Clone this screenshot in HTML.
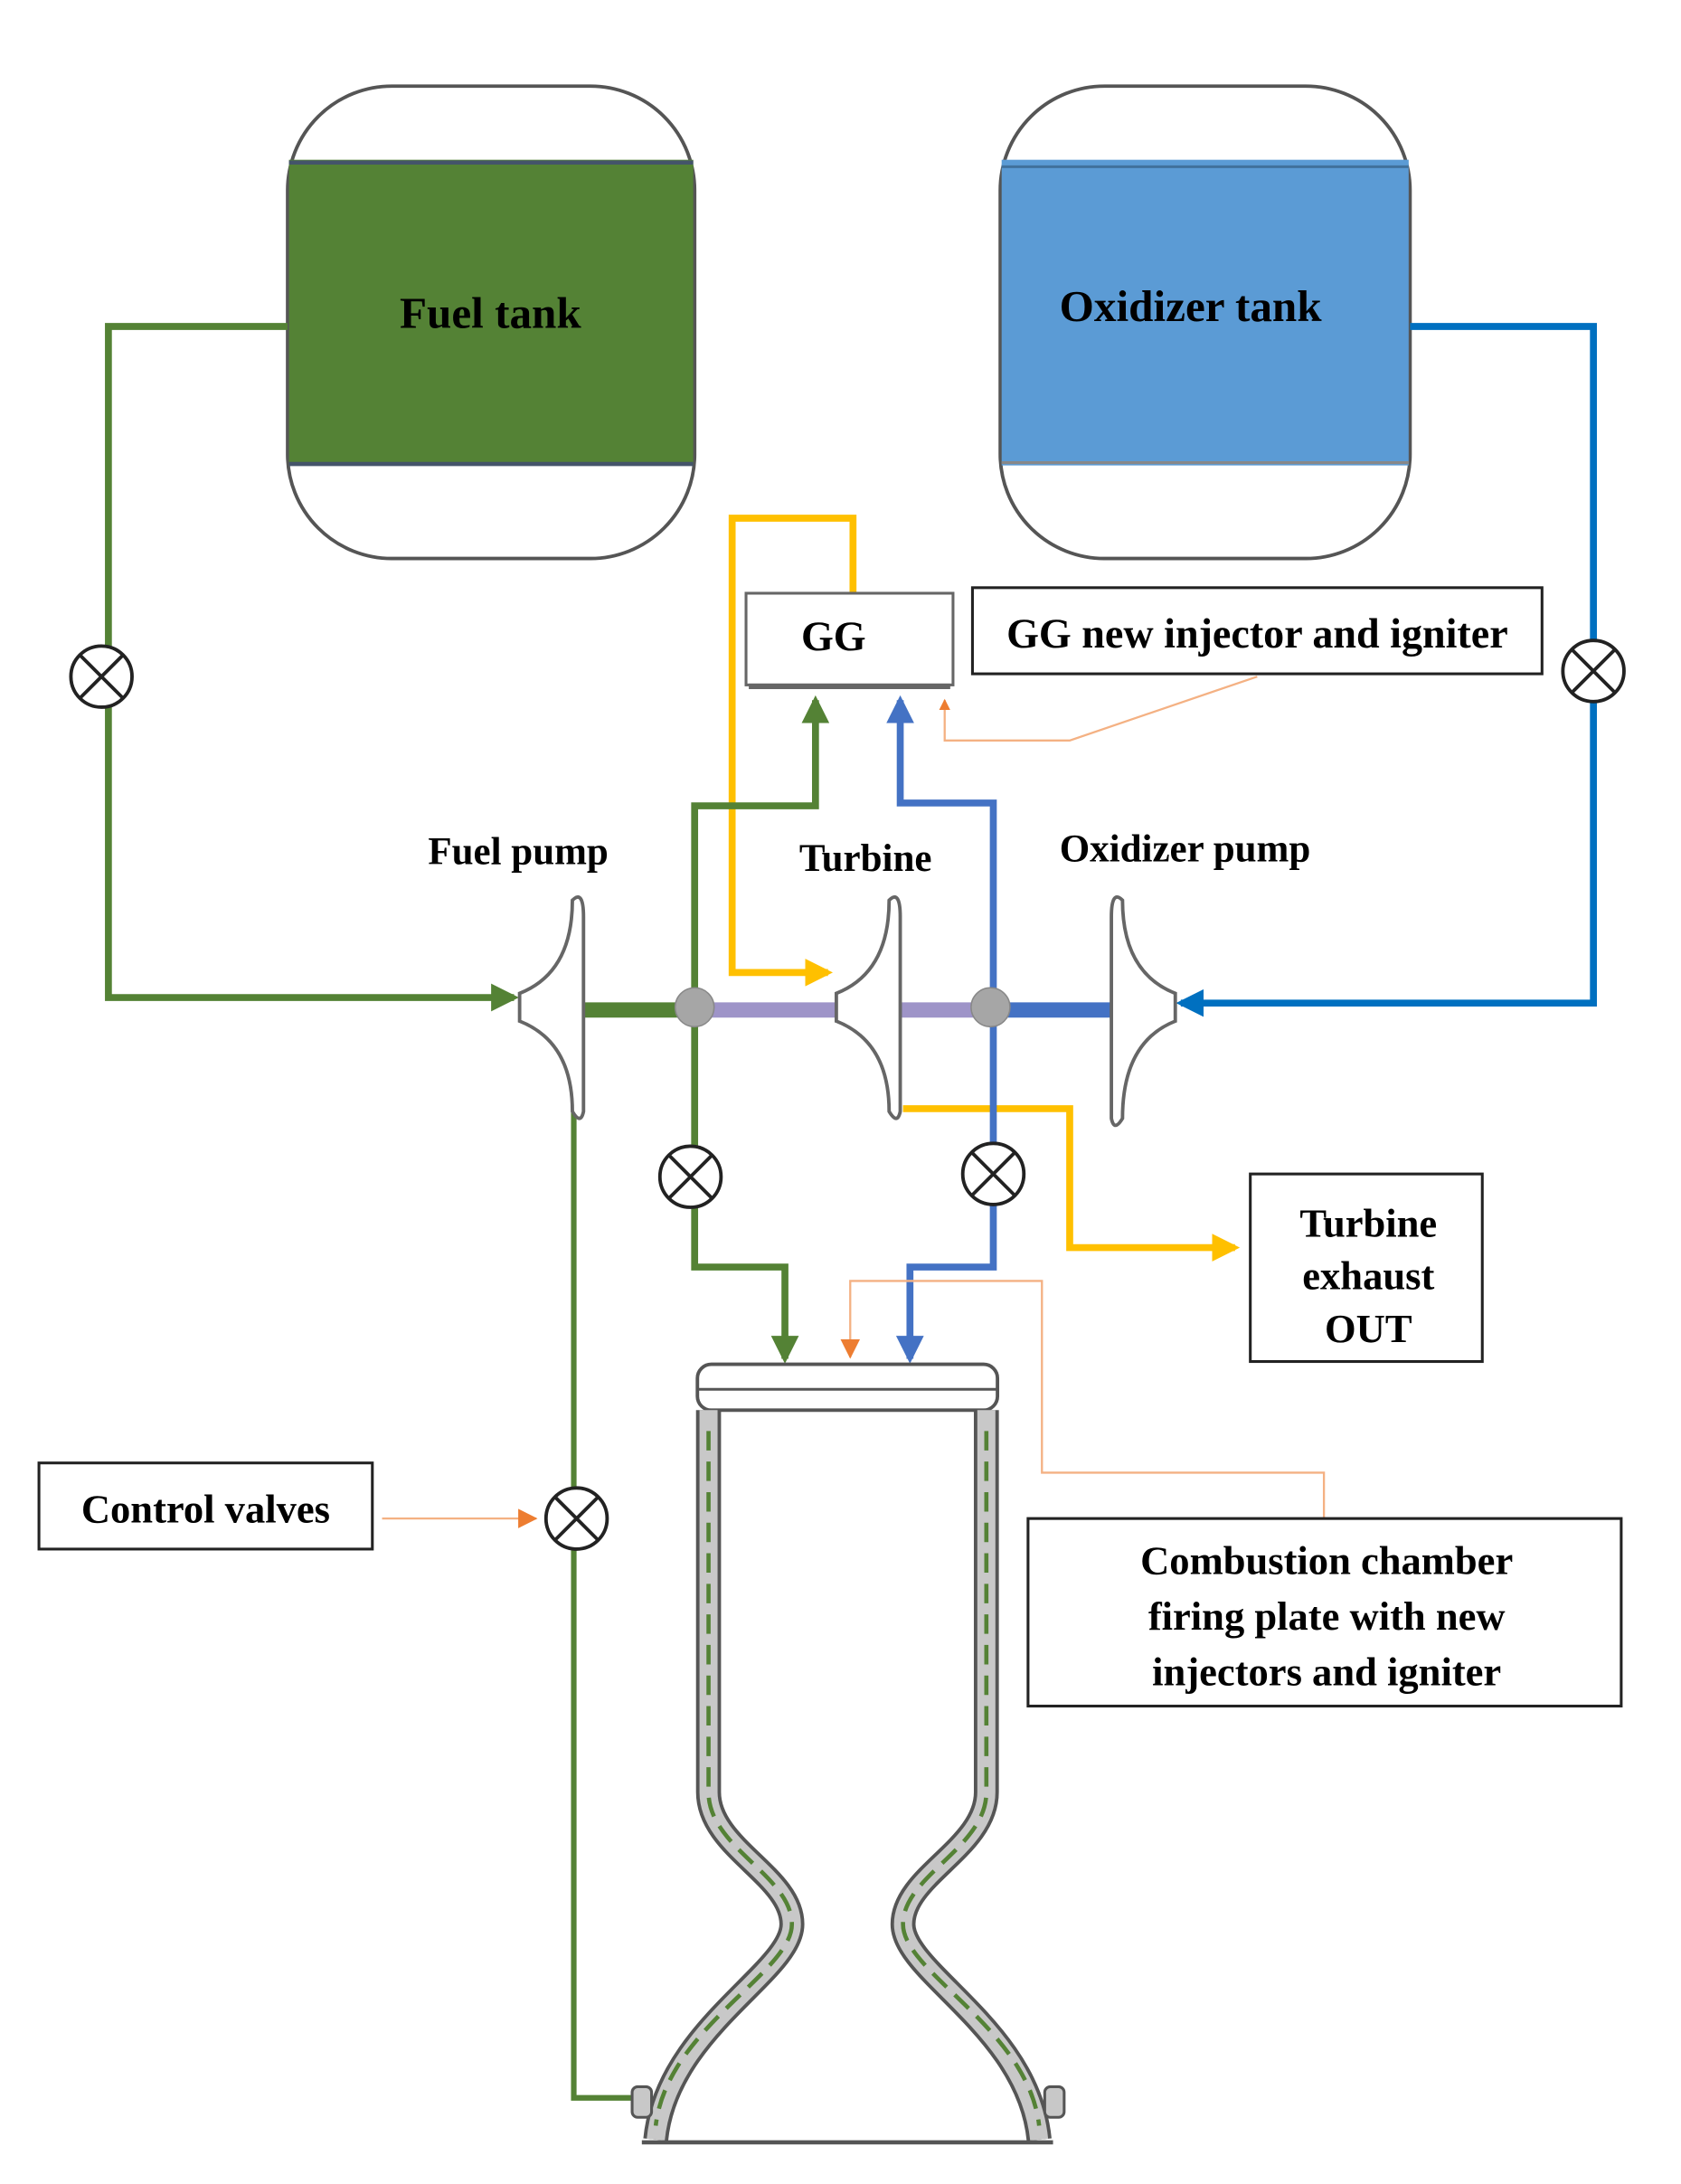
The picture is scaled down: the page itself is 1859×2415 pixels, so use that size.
<!DOCTYPE html>
<html><head><meta charset="utf-8"><style>html,body{margin:0;padding:0;background:#fff}svg{display:block}</style></head>
<body>
<svg width="1859" height="2415" viewBox="0 0 1210 1572" xmlns="http://www.w3.org/2000/svg" font-family="Liberation Serif, serif" font-weight="bold">
<defs>
<marker id="ag" markerWidth="4" markerHeight="4" refX="3.3" refY="2" orient="auto" markerUnits="strokeWidth"><path d="M0,0 L4,2 L0,4z" fill="#548235"/></marker>
<marker id="ab" markerWidth="4" markerHeight="4" refX="3.3" refY="2" orient="auto" markerUnits="strokeWidth"><path d="M0,0 L4,2 L0,4z" fill="#4472c4"/></marker>
<marker id="ab2" markerWidth="4" markerHeight="4" refX="3.3" refY="2" orient="auto" markerUnits="strokeWidth"><path d="M0,0 L4,2 L0,4z" fill="#0070c0"/></marker>
<marker id="ay" markerWidth="4" markerHeight="4" refX="3.3" refY="2" orient="auto" markerUnits="strokeWidth"><path d="M0,0 L4,2 L0,4z" fill="#ffc000"/></marker>
<marker id="ao" markerWidth="8" markerHeight="8" refX="7" refY="4" orient="auto" markerUnits="userSpaceOnUse"><path d="M0,0 L8,4 L0,8z" fill="#ed7d31"/></marker>
<marker id="ao2" markerWidth="14" markerHeight="14" refX="13" refY="7" orient="auto" markerUnits="userSpaceOnUse"><path d="M0,0 L14,7 L0,14z" fill="#ed7d31"/></marker>
</defs>
<rect x="207" y="62" width="293" height="340" rx="75" fill="#fff" stroke="#555" stroke-width="2.5"/>
<rect x="208" y="115" width="291" height="220" fill="#548235"/>
<line x1="208" y1="117" x2="499" y2="117" stroke="#44546a" stroke-width="3"/>
<line x1="208" y1="334" x2="499" y2="334" stroke="#44546a" stroke-width="3"/>
<text x="353" y="236" font-size="32" text-anchor="middle">Fuel tank</text>
<rect x="720" y="62" width="295" height="340" rx="75" fill="#fff" stroke="#555" stroke-width="2.5"/>
<rect x="721" y="115" width="293" height="220" fill="#5b9bd5"/>
<line x1="721" y1="120" x2="1014" y2="120" stroke="#41719c" stroke-width="2"/>
<line x1="721" y1="333" x2="1014" y2="333" stroke="#888" stroke-width="2"/>
<text x="857" y="231" font-size="32" text-anchor="middle">Oxidizer tank</text>
<polyline points="207,235 78,235 78,718 370,718" fill="none" stroke="#548235" stroke-width="5" marker-end="url(#ag)"/>
<polyline points="1015,235 1147,235 1147,722 850,722" fill="none" stroke="#0070c0" stroke-width="5" marker-end="url(#ab2)"/>
<line x1="420" y1="727" x2="500" y2="727" stroke="#548235" stroke-width="11"/>
<line x1="500" y1="727" x2="605" y2="727" stroke="#9e94c8" stroke-width="11"/>
<line x1="648" y1="727" x2="715" y2="727" stroke="#9e94c8" stroke-width="11"/>
<line x1="715" y1="727" x2="802" y2="727" stroke="#4472c4" stroke-width="11"/>
<polyline points="614,427 614,373 527,373 527,700 596,700" fill="none" stroke="#ffc000" stroke-width="5" marker-end="url(#ay)"/>
<polyline points="650,798 770,798 770,898 889,898" fill="none" stroke="#ffc000" stroke-width="5" marker-end="url(#ay)"/>
<polyline points="500,725 500,580 587,580 587,504" fill="none" stroke="#548235" stroke-width="5" marker-end="url(#ag)"/>
<polyline points="500,725 500,912 565,912 565,978" fill="none" stroke="#548235" stroke-width="5" marker-end="url(#ag)"/>
<polyline points="715,725 715,578 648,578 648,504" fill="none" stroke="#4472c4" stroke-width="5" marker-end="url(#ab)"/>
<polyline points="715,725 715,912 655,912 655,978" fill="none" stroke="#4472c4" stroke-width="5" marker-end="url(#ab)"/>
<polyline points="413,800 413,1510 468,1510" fill="none" stroke="#548235" stroke-width="4"/>
<circle cx="500" cy="725" r="14" fill="#a6a6a6" stroke="#888"/>
<circle cx="713" cy="725" r="14" fill="#a6a6a6" stroke="#888"/>
<g fill="#fff" stroke="#666" stroke-width="2.5">
<path d="M412,648 Q420,640 420,660 L420,800 Q418,810 412,800 Q412,750 374,735 L374,715 Q412,700 412,648z"/>
<path d="M640,648 Q648,640 648,660 L648,800 Q646,810 640,800 Q640,750 602,735 L602,715 Q640,700 640,648z"/>
<path d="M808,648 Q800,640 800,660 L800,805 Q802,815 808,805 Q808,750 846,735 L846,715 Q808,700 808,648z"/>
</g>
<rect x="537" y="427" width="149" height="66" fill="#fff" stroke="#666" stroke-width="2"/>
<line x1="539" y1="494" x2="684" y2="494" stroke="#666" stroke-width="4"/>
<text x="600" y="468" font-size="30" text-anchor="middle">GG</text>
<rect x="700" y="423" width="410" height="62" fill="#fff" stroke="#222" stroke-width="2"/>
<text x="905" y="466" font-size="30" text-anchor="middle">GG new injector and igniter</text>
<polyline points="905,487 770,533 680,533 680,504" fill="none" stroke="#f4b183" stroke-width="1.5" marker-end="url(#ao)"/>
<text x="373" y="622" font-size="28" text-anchor="middle">Fuel pump</text>
<text x="623" y="627" font-size="28" text-anchor="middle">Turbine</text>
<text x="853" y="620" font-size="28" text-anchor="middle">Oxidizer pump</text>
<g fill="#fff" stroke="#222" stroke-width="2.5">
<g transform="translate(73,487)"><circle r="22"/><path d="M-15,-15 L15,15 M15,-15 L-15,15"/></g>
<g transform="translate(1147,483)"><circle r="22"/><path d="M-15,-15 L15,15 M15,-15 L-15,15"/></g>
<g transform="translate(497,847)"><circle r="22"/><path d="M-15,-15 L15,15 M15,-15 L-15,15"/></g>
<g transform="translate(715,845)"><circle r="22"/><path d="M-15,-15 L15,15 M15,-15 L-15,15"/></g>
<g transform="translate(415,1093)"><circle r="22"/><path d="M-15,-15 L15,15 M15,-15 L-15,15"/></g>
</g>
<rect x="900" y="845" width="167" height="135" fill="#fff" stroke="#222" stroke-width="2"/>
<text font-size="29" text-anchor="middle"><tspan x="985" y="890">Turbine</tspan><tspan x="985" y="928">exhaust</tspan><tspan x="985" y="966">OUT</tspan></text>
<rect x="28" y="1053" width="240" height="62" fill="#fff" stroke="#222" stroke-width="2"/>
<text x="148" y="1096" font-size="29" text-anchor="middle">Control valves</text>
<line x1="275" y1="1093" x2="386" y2="1093" stroke="#f4b183" stroke-width="1.5" marker-end="url(#ao2)"/>
<polyline points="953,1093 953,1060 750,1060 750,922 612,922 612,977" fill="none" stroke="#f4b183" stroke-width="1.5" marker-end="url(#ao2)"/>
<rect x="740" y="1093" width="427" height="135" fill="#fff" stroke="#222" stroke-width="2"/>
<text font-size="29" text-anchor="middle"><tspan x="955" y="1133">Combustion chamber</tspan><tspan x="955" y="1173">firing plate with new</tspan><tspan x="955" y="1213">injectors and igniter</tspan></text>
<rect x="502" y="982" width="216" height="33" rx="10" fill="#fff" stroke="#555" stroke-width="2.5"/>
<line x1="502" y1="1000" x2="718" y2="1000" stroke="#555" stroke-width="2"/>
<g fill="none">
<path d="M510,1015 L510,1290 C510,1330 570,1350 570,1385 C570,1420 480,1460 472,1540" stroke="#555" stroke-width="18"/>
<path d="M710,1015 L710,1290 C710,1330 650,1350 650,1385 C650,1420 740,1460 748,1540" stroke="#555" stroke-width="18"/>
<path d="M510,1015 L510,1290 C510,1330 570,1350 570,1385 C570,1420 480,1460 472,1540" stroke="#c8c8c8" stroke-width="13"/>
<path d="M710,1015 L710,1290 C710,1330 650,1350 650,1385 C650,1420 740,1460 748,1540" stroke="#c8c8c8" stroke-width="13"/>
<path d="M510,1030 L510,1290 C510,1330 570,1350 570,1385 C570,1420 480,1460 472,1530" stroke="#548235" stroke-width="3" stroke-dasharray="14,8"/>
<path d="M710,1030 L710,1290 C710,1330 650,1350 650,1385 C650,1420 740,1460 748,1530" stroke="#548235" stroke-width="3" stroke-dasharray="14,8"/>
</g>
<rect x="455" y="1502" width="14" height="22" rx="4" fill="#c8c8c8" stroke="#555" stroke-width="2"/>
<rect x="752" y="1502" width="14" height="22" rx="4" fill="#c8c8c8" stroke="#555" stroke-width="2"/>
<line x1="462" y1="1542" x2="758" y2="1542" stroke="#555" stroke-width="3"/>
</svg>
</body></html>
